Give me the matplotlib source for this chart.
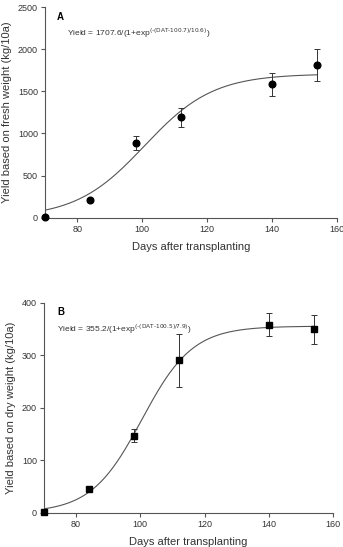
import matplotlib
matplotlib.use("Agg")
import matplotlib.pyplot as plt
import numpy as np

plt.rcParams['font.family'] = ['Liberation Sans', 'DejaVu Sans']
plt.rcParams['mathtext.default'] = 'regular'

# Data
dat = [70, 84, 98, 112, 140, 154]
fresh_yield = [8, 211, 889, 1190, 1583, 1814]
fresh_err = [8, 20, 85, 112, 135, 190]
dry_yield = [2, 44.6, 146.7, 290, 358, 349]
dry_err = [2, 4, 13, 50, 22, 27]

# Fitted logistic parameters (shown on the chart)
fresh_params = (1707.6, 100.7, 10.6)
dry_params = (355.2, 100.5, 7.9)

xticks = [80, 100, 120, 140, 160]
fresh_yticks = [0, 500, 1000, 1500, 2000, 2500]
dry_yticks = [0, 100, 200, 300, 400]

fig = plt.figure(figsize=(3.43, 5.47), dpi=100)
ax1 = fig.add_axes([0.131, 0.602, 0.851, 0.385])
ax2 = fig.add_axes([0.128, 0.0627, 0.843, 0.384])

def logistic(x, p):
    a, x0, b = p
    return a / (1 + np.exp(-(x - x0) / b))

xs = np.linspace(70, 154, 200)

def style(ax, yticks, ylim):
    for s in ['top', 'right']:
        ax.spines[s].set_visible(False)
    for s in ['left', 'bottom']:
        ax.spines[s].set_color('#555555')
        ax.spines[s].set_linewidth(0.8)
    ax.set_xlim(70, 160)
    ax.set_ylim(*ylim)
    ax.set_xticks(xticks)
    ax.set_yticks(yticks)
    ax.tick_params(direction='out', length=3, width=0.8, color='#555555',
                   labelsize=6.5, labelcolor='#333333', pad=2)

# Panel A
ax1.plot(xs, logistic(xs, fresh_params), color='#555555', lw=0.8)
ax1.errorbar(dat, fresh_yield, yerr=fresh_err, fmt='o', color='black',
             ms=4.8, ecolor='#333333', elinewidth=0.7, capsize=2.5, capthick=0.7,
             clip_on=False, zorder=3)
style(ax1, fresh_yticks, (0, 2500))
ax1.set_xlabel('Days after transplanting', fontsize=8, color='#333333', labelpad=6)
ax1.set_ylabel('Yield based on fresh weight (kg/10a)', fontsize=8, color='#333333', labelpad=4)
ax1.text(0.04, 0.955, 'A', transform=ax1.transAxes, fontsize=7, fontweight='bold',
         ha='left', va='center')
ax1.text(0.075, 0.875, r'Yield = 1707.6/(1+exp$^{\text{(-(DAT-100.7)/10.6)}}$)',
         transform=ax1.transAxes, fontsize=6, color='#333333', ha='left', va='center')

# Panel B
ax2.plot(xs, logistic(xs, dry_params), color='#555555', lw=0.8)
ax2.errorbar(dat, dry_yield, yerr=dry_err, fmt='s', color='black',
             ms=4.5, ecolor='#333333', elinewidth=0.7, capsize=2.5, capthick=0.7,
             clip_on=False, zorder=3)
style(ax2, dry_yticks, (0, 400))
ax2.set_xlabel('Days after transplanting', fontsize=8, color='#333333', labelpad=6)
ax2.set_ylabel('Yield based on dry weight (kg/10a)', fontsize=8, color='#333333', labelpad=4)
ax2.text(0.045, 0.955, 'B', transform=ax2.transAxes, fontsize=7, fontweight='bold',
         ha='left', va='center')
ax2.text(0.045, 0.875, r'Yield = 355.2/(1+exp$^{\text{(-(DAT-100.5)/7.9)}}$)',
         transform=ax2.transAxes, fontsize=6, color='#333333', ha='left', va='center')

fig.savefig('out.png', dpi=100)
